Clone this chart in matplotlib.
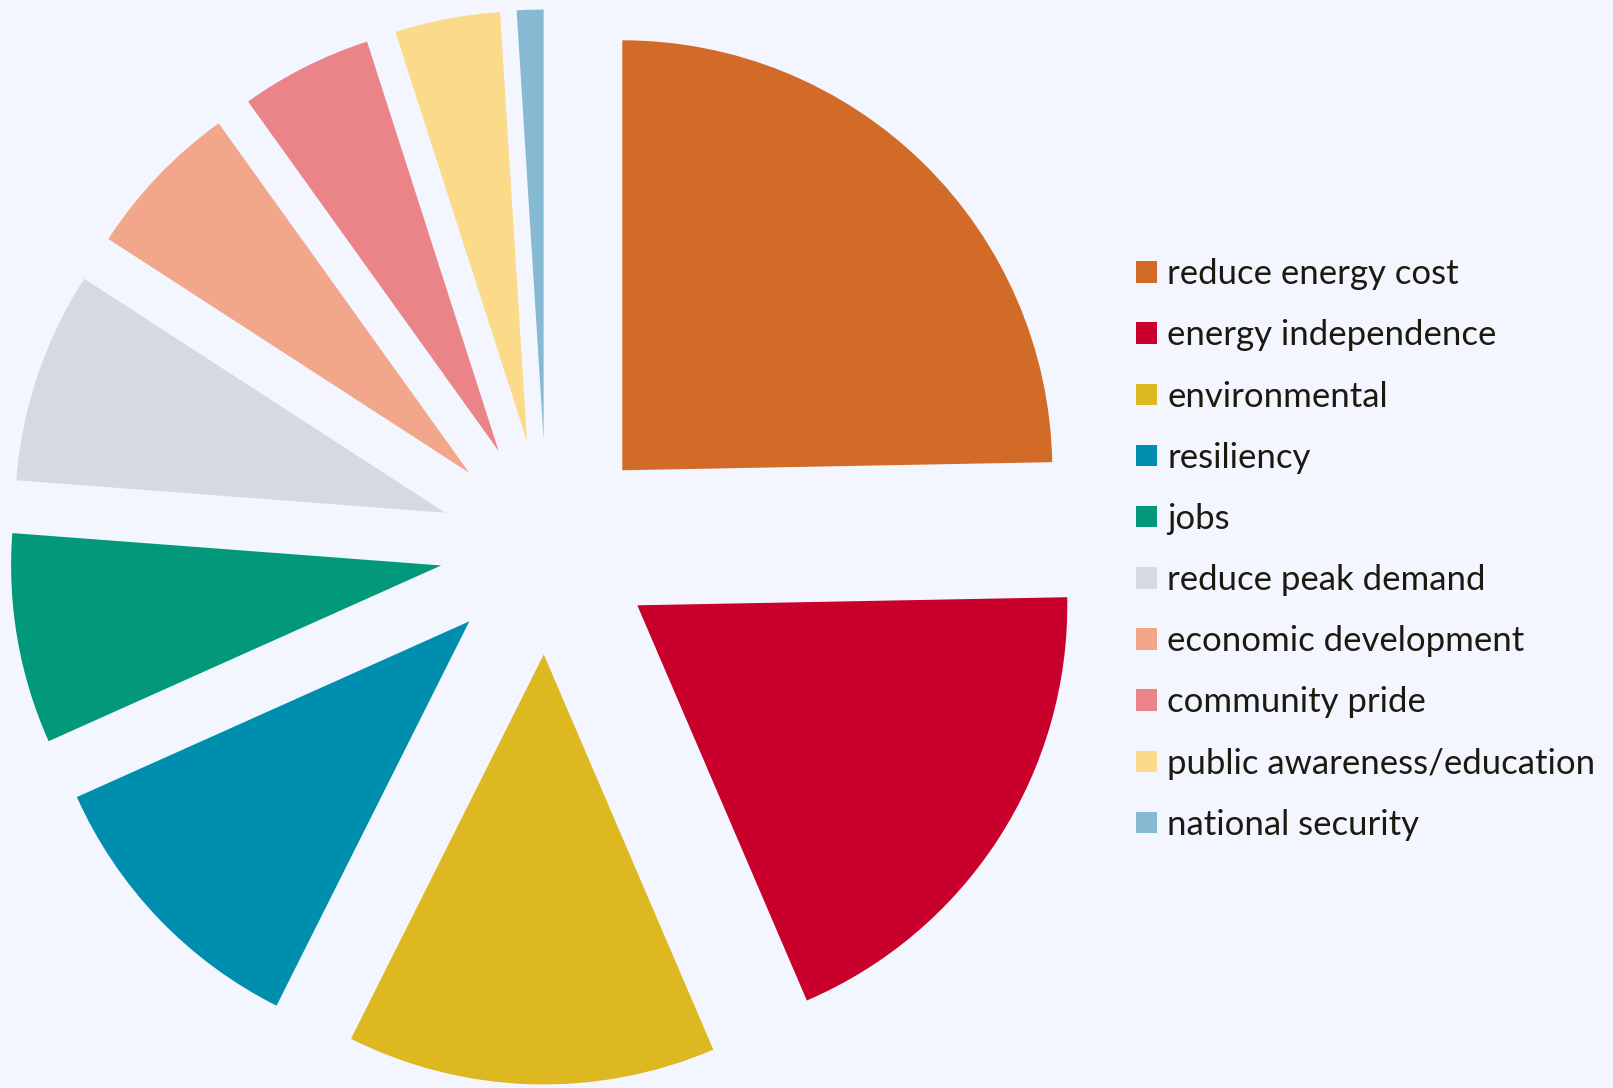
import matplotlib.pyplot as plt

# Данные
labels = ['reduce energy cost', 'energy independence', 'environmental', 'resiliency', 'jobs',
          'reduce peak demand', 'economic development', 'community pride',
          'public awareness/education', 'national security']
values = [24.7, 18.85, 13.85, 10.9, 7.9, 7.95, 5.95, 4.95, 3.95, 1.0]
colors = ['#D26B27', '#C8002B', '#DDB820', '#008EAF', '#02987A',
          '#D6D9E2', '#F2A68A', '#EB8488', '#FBDB8A', '#86B9D2']

bg = '#F3F6FE'
W, H = 1613, 1088
R_px = 430          # радиус в пикселях
cx, cy = 547, 547   # центр (от верхнего левого угла)

fig = plt.figure(figsize=(W / 100, H / 100), dpi=100, facecolor=bg)
ax = fig.add_axes([0, 0, 1, 1])
ax.set_facecolor(bg)

wedges, _ = ax.pie(values, colors=colors, startangle=90, counterclock=False,
                   explode=[0.25] * len(values), radius=1,
                   wedgeprops=dict(linewidth=0))
ax.set_aspect('auto')
ax.set_xlim(-cx / R_px, (W - cx) / R_px)
ax.set_ylim(-(H - cy) / R_px, cy / R_px)
ax.axis('off')

fs = 25
leg = fig.legend(wedges, labels, loc='center left',
                 bbox_to_anchor=(1136 / W, 1 - 549.5 / H),
                 frameon=False, borderpad=0, borderaxespad=0,
                 handlelength=0.605, handleheight=0.58, handletextpad=0.29,
                 labelspacing=0.84,
                 prop={'family': ['Lato', 'DejaVu Sans'], 'size': fs})
for t in leg.get_texts():
    t.set_color('#1C1A10')

fig.savefig('out.png', dpi=100, facecolor=bg)
